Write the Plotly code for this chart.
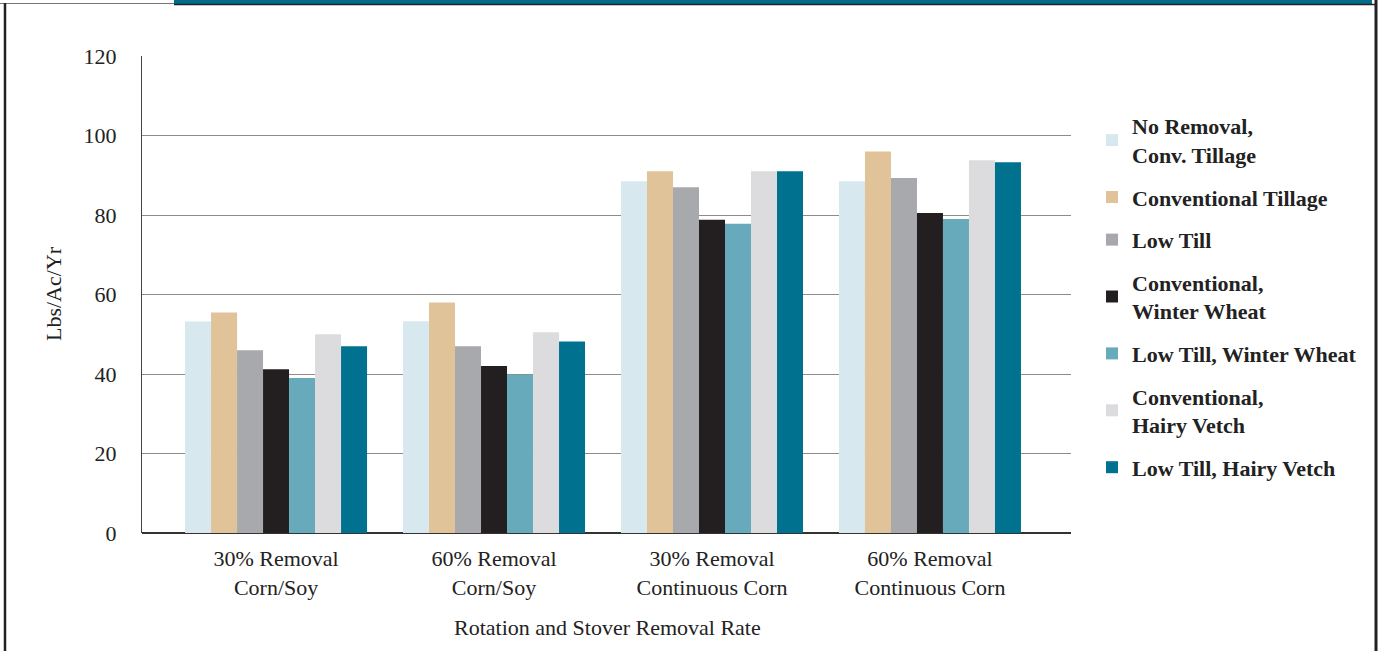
import plotly.graph_objects as go

categories = ["30% Removal<br>Corn/Soy", "60% Removal<br>Corn/Soy",
              "30% Removal<br>Continuous Corn", "60% Removal<br>Continuous Corn"]

series_names = ["No Removal,<br>Conv. Tillage", "Conventional Tillage", "Low Till",
                "Conventional,<br>Winter Wheat", "Low Till, Winter Wheat",
                "Conventional,<br>Hairy Vetch", "Low Till, Hairy Vetch"]

no_removal = [53.2, 53.3, 88.5, 88.5]
conventional_tillage = [55.5, 58.0, 91.0, 96.0]
low_till = [46.0, 47.0, 87.0, 89.3]
conv_winter_wheat = [41.2, 42.0, 78.8, 80.5]
low_till_winter_wheat = [39.0, 39.8, 77.8, 79.0]
conv_hairy_vetch = [50.0, 50.5, 91.0, 93.8]
low_till_hairy_vetch = [47.0, 48.2, 91.0, 93.3]

series_values = [no_removal, conventional_tillage, low_till, conv_winter_wheat,
                 low_till_winter_wheat, conv_hairy_vetch, low_till_hairy_vetch]
colors = ["#d7e8ee", "#e0c398", "#a8a9ad", "#231f20", "#67aabc", "#dcdcde", "#007290"]

y_ticks = [0, 20, 40, 60, 80, 100, 120]

FONT = "Liberation Serif"
FS = 22
W, H = 1380, 651
ML, MR, MT, MB = 142, 309, 56, 118

fig = go.Figure()
for i, (name, vals, col) in enumerate(zip(series_names, series_values, colors)):
    fig.add_trace(go.Bar(
        x=list(range(len(categories))), y=vals, name=name,
        marker=dict(color=col, line=dict(width=0)),
        legendgroup=f"g{i}",
    ))

def px_x(p):
    return (p - ML) / (W - ML - MR)

def px_y(p):
    return 1 - (p - MT) / (H - MT - MB)

shapes = [
    dict(type="rect", xref="paper", yref="paper", x0=px_x(174), x1=px_x(1372),
         y0=px_y(0), y1=px_y(4), fillcolor="#046d8b", line=dict(width=0), layer="above"),
    dict(type="line", xref="paper", yref="paper", x0=px_x(174), x1=px_x(1376),
         y0=px_y(4.5), y1=px_y(4.5), line=dict(color="#222", width=1.5)),
    dict(type="line", xref="paper", yref="paper", x0=px_x(0), x1=px_x(174),
         y0=px_y(3.5), y1=px_y(3.5), line=dict(color="#777", width=1)),
    dict(type="line", xref="paper", yref="paper", x0=px_x(5), x1=px_x(5),
         y0=px_y(3), y1=px_y(651), line=dict(color="#222", width=2.5)),
    dict(type="line", xref="paper", yref="paper", x0=px_x(1376), x1=px_x(1376),
         y0=px_y(0), y1=px_y(651), line=dict(color="#222", width=3)),
]

annotations = [
    dict(text="Lbs/Ac/Yr", xref="paper", yref="paper", x=px_x(53), y=px_y(294),
         textangle=-90, showarrow=False, font=dict(family=FONT, size=FS, color="#222"),
         xanchor="center", yanchor="middle"),
    dict(text="Rotation and Stover Removal Rate", xref="paper", yref="paper",
         x=px_x(607), y=px_y(627), showarrow=False,
         font=dict(family=FONT, size=FS, color="#222"), xanchor="center", yanchor="middle"),
]

fig.update_layout(
    width=W, height=H,
    margin=dict(l=ML, r=MR, t=MT, b=MB, autoexpand=False),
    paper_bgcolor="white", plot_bgcolor="white",
    barmode="group", bargap=0.165, bargroupgap=0,
    font=dict(family=FONT, size=FS, color="#222"),
    showlegend=True,
    legend=dict(
        x=px_x(1092), y=px_y(105), xanchor="left", yanchor="top",
        font=dict(family=FONT, size=FS, color="#222", weight="bold"),
        tracegroupgap=11, traceorder="grouped", itemwidth=30,
        bgcolor="rgba(0,0,0,0)",
    ),
    shapes=shapes, annotations=annotations,
    xaxis=dict(
        tickmode="array", tickvals=list(range(len(categories))), ticktext=categories,
        range=[-0.615, 3.647], showgrid=False, zeroline=False, showline=False,
        ticks="", ticklabelstandoff=10, tickfont=dict(family=FONT, size=FS, color="#222"),
    ),
    yaxis=dict(
        range=[0, 120], tickvals=y_ticks, showgrid=True, gridcolor="#8c8c8c", gridwidth=1.3,
        zeroline=True, zerolinecolor="#333", zerolinewidth=2,
        showline=True, linecolor="#444", linewidth=1, ticks="",
        ticklabelstandoff=20, tickfont=dict(family=FONT, size=FS, color="#222"),
    ),
)

fig.write_html("out.html")
